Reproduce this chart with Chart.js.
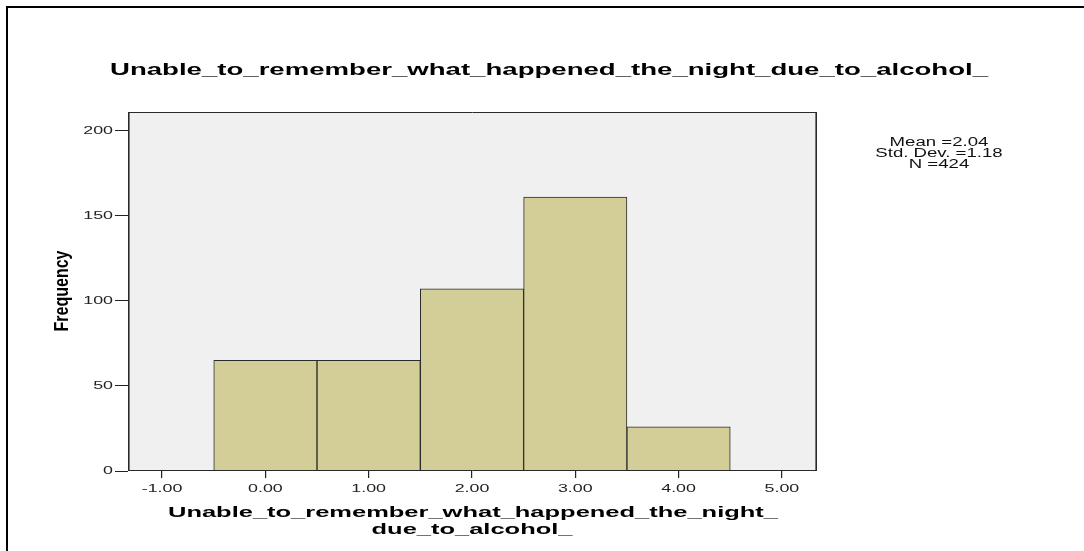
<!DOCTYPE html>
<html>
<head>
<meta charset="utf-8">
<title>Histogram</title>
<script src="https://cdn.jsdelivr.net/npm/chart.js@4/dist/chart.umd.min.js"></script>
<style>
  html, body { margin: 0; padding: 0; background: #fff; }
  canvas { display: block; }
</style>
</head>
<body>
<canvas id="histogram" width="1084" height="551"></canvas>
<script>
const binCenters = [0, 1, 2, 3, 4];
const frequencies = [65, 65, 107, 161, 26];
const xTickValues = [-1, 0, 1, 2, 3, 4, 5];
const yTickValues = [0, 50, 100, 150, 200];
const chartTitle = 'Unable_to_remember_what_happened_the_night_due_to_alcohol_';
const xAxisTitle = ['Unable_to_remember_what_happened_the_night_', 'due_to_alcohol_'];
const yAxisTitle = 'Frequency';

const FONT = '"Liberation Sans", Arial, sans-serif';

// mean / std. dev. / N worked out from the bins
function summaryLines() {
    let n = 0, sum = 0, sumSq = 0;
    binCenters.forEach((x, i) => {
        n += frequencies[i];
        sum += x * frequencies[i];
        sumSq += x * x * frequencies[i];
    });
    const mean = sum / n;
    const sd = Math.sqrt((sumSq - n * mean * mean) / (n - 1));
    return ['Mean =' + mean.toFixed(2), 'Std. Dev. =' + sd.toFixed(2), 'N =' + n];
}

// SPSS export is stretched sideways, so text is drawn with a horizontal scale
function stretchText(ctx, text, x, y, font, sx, align, baseline) {
    ctx.save();
    ctx.font = font;
    ctx.textAlign = align || 'center';
    ctx.textBaseline = baseline || 'alphabetic';
    ctx.translate(x, y);
    ctx.scale(sx, 1);
    ctx.fillText(text, 0, 0);
    ctx.restore();
}

function widthScale(ctx, text, font, target) {
    ctx.save();
    ctx.font = font;
    const w = ctx.measureText(text).width;
    ctx.restore();
    return target / w;
}

const spssDecor = {
    id: 'spssDecor',
    beforeDraw(chart) {
        const { ctx, chartArea } = chart;
        ctx.save();
        ctx.fillStyle = '#000';
        ctx.fillRect(6, 6, chart.width - 6, 2);
        ctx.fillRect(6, 6, 2, chart.height - 6);
        ctx.fillStyle = '#f0f0f0';
        ctx.fillRect(chartArea.left, chartArea.top, chartArea.width, chartArea.height);
        ctx.restore();
    },
    afterDatasetsDraw(chart) {
        const { ctx, chartArea } = chart;
        ctx.save();
        ctx.strokeStyle = '#2a2a2a';
        ctx.lineWidth = 1;
        ctx.beginPath();
        ctx.moveTo(chartArea.left, chartArea.top + 0.5);
        ctx.lineTo(chartArea.right, chartArea.top + 0.5);
        ctx.moveTo(chartArea.left, chartArea.bottom - 0.5);
        ctx.lineTo(chartArea.right, chartArea.bottom - 0.5);
        ctx.stroke();
        ctx.lineWidth = 1.6;
        ctx.beginPath();
        ctx.moveTo(chartArea.left + 0.8, chartArea.top);
        ctx.lineTo(chartArea.left + 0.8, chartArea.bottom);
        ctx.moveTo(chartArea.right - 0.8, chartArea.top);
        ctx.lineTo(chartArea.right - 0.8, chartArea.bottom);
        ctx.stroke();
        ctx.restore();
    },
    afterDraw(chart) {
        const { ctx, chartArea, scales } = chart;
        ctx.save();
        ctx.fillStyle = '#000';

        const titleFont = 'bold 17px ' + FONT;
        stretchText(ctx, chartTitle, 549, 75, titleFont, widthScale(ctx, chartTitle, titleFont, 878));

        const xTitleFont = 'bold 15px ' + FONT;
        const xsx = widthScale(ctx, xAxisTitle[0], xTitleFont, 610);
        stretchText(ctx, xAxisTitle[0], 473, 517, xTitleFont, xsx);
        stretchText(ctx, xAxisTitle[1], 472, 534, xTitleFont, xsx);

        ctx.save();
        ctx.font = 'bold 16px ' + FONT;
        ctx.textAlign = 'center';
        ctx.translate(68, 291);
        ctx.scale(1.3, 1);
        ctx.rotate(-Math.PI / 2);
        ctx.fillText(yAxisTitle, 0, 0);
        ctx.restore();

        ctx.fillStyle = '#222';
        const tickFont = '11.5px ' + FONT;
        yTickValues.forEach(v => {
            stretchText(ctx, String(v), chartArea.left - 15, scales.y.getPixelForValue(v),
                tickFont, 1.55, 'right', 'middle');
        });
        xTickValues.forEach(v => {
            stretchText(ctx, v.toFixed(2), scales.x.getPixelForValue(v), chartArea.bottom + 21,
                tickFont, 1.55, 'center');
        });

        ctx.fillStyle = '#111';
        summaryLines().forEach((line, i) => {
            stretchText(ctx, line, 939, 146 + i * 11, '12px ' + FONT, 1.55, 'center');
        });
        ctx.restore();
    }
};

const ctx = document.getElementById('histogram').getContext('2d');
const histogram = new Chart(ctx, {
    type: 'bar',
    data: {
        datasets: [{
            data: binCenters.map((x, i) => ({ x: x, y: frequencies[i] })),
            backgroundColor: '#d3ce97',
            borderColor: '#2b2b2b',
            borderWidth: { top: 1, left: 1, right: 1, bottom: 0 },
            borderSkipped: false,
            barPercentage: 1,
            categoryPercentage: 1
        }]
    },
    options: {
        responsive: false,
        animation: false,
        devicePixelRatio: 1,
        layout: {
            padding: { left: 128, top: 112, right: 267, bottom: 80 }
        },
        plugins: {
            legend: { display: false },
            tooltip: { enabled: false }
        },
        scales: {
            x: {
                type: 'linear',
                min: -1.33,
                max: 5.34,
                offset: false,
                afterBuildTicks: scale => { scale.ticks = xTickValues.map(v => ({ value: v })); },
                afterFit: scale => { scale.height = 0; },
                ticks: { display: false },
                grid: { offset: false, drawOnChartArea: false, drawTicks: true, tickLength: 7, color: '#222', lineWidth: 1.2 },
                border: { display: false }
            },
            y: {
                min: 0,
                max: 211,
                afterBuildTicks: scale => { scale.ticks = yTickValues.map(v => ({ value: v })); },
                afterFit: scale => { scale.width = 0; },
                ticks: { display: false },
                grid: { drawOnChartArea: false, drawTicks: true, tickLength: 13, color: '#222', lineWidth: 1 },
                border: { display: false }
            }
        }
    },
    plugins: [spssDecor]
});
</script>
</body>
</html>
